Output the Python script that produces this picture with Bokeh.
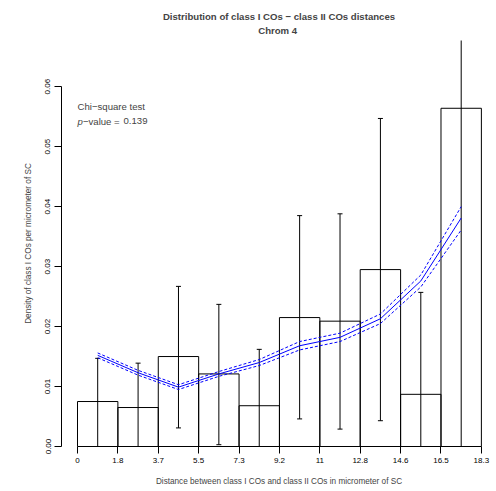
from math import pi
from bokeh.plotting import figure
from bokeh.models import Range1d, FixedTicker, Label
from bokeh.embed import file_html
from bokeh.resources import INLINE

# ---- data ----
bin_edges = [0, 1.83, 3.66, 5.49, 7.32, 9.15, 10.98, 12.81, 14.64, 16.47, 18.3]
x_tick_labels = ["0", "1.8", "3.7", "5.5", "7.3", "9.2", "11", "12.8", "14.6", "16.5", "18.3"]
density = [0.0075, 0.0065, 0.0150, 0.0121, 0.0068, 0.0215, 0.0209, 0.0295, 0.0087, 0.0564]
err_low = [0.0, 0.0, 0.0031, 0.0003, 0.0, 0.0046, 0.0029, 0.0043, 0.0, 0.0]
err_high = [0.0147, 0.0139, 0.0267, 0.0237, 0.0162, 0.0385, 0.0388, 0.0547, 0.0257, 0.0750]
fit = [0.0152, 0.0123, 0.0099, 0.0121, 0.0140, 0.0168, 0.0182, 0.0213, 0.0276, 0.0381]
fit_upper = [0.0156, 0.0127, 0.0103, 0.0125, 0.0145, 0.0175, 0.0189, 0.0221, 0.0286, 0.0400]
fit_lower = [0.0148, 0.0119, 0.0095, 0.0117, 0.0135, 0.0161, 0.0175, 0.0205, 0.0266, 0.0361]
y_ticks = [0.0, 0.01, 0.02, 0.03, 0.04, 0.05, 0.06]
y_tick_labels = ["0.00", "0.01", "0.02", "0.03", "0.04", "0.05", "0.06"]
p_value = "0.139"

title_main = "Distribution of class I COs \u2212 class II COs distances"
title_sub = "Chrom  4"
x_label = "Distance between class I COs and class II COs in micrometer of SC"
y_label = "Density of class I COs per micrometer of SC"

centers = [(a + b) / 2 for a, b in zip(bin_edges[:-1], bin_edges[1:])]

FONT = "Liberation Sans"

p = figure(frame_width=435, frame_height=406,
           min_border_left=61, min_border_right=0, min_border_top=40, min_border_bottom=45,
           x_range=Range1d(-0.725, 18.985), y_range=Range1d(0, 0.0677),
           output_backend="svg", toolbar_location=None,
           title=title_main + "\n" + title_sub)
p.outline_line_color = None
p.xgrid.visible = False
p.ygrid.visible = False
p.background_fill_color = "white"
p.border_fill_color = "white"

# title (two centred lines)
p.title.align = "center"
p.title.text_align = "center"
p.title.text_font = FONT
p.title.text_font_size = "9.6px"
p.title.text_font_style = "bold"
p.title.text_line_height = 1.3
p.title.standoff = 9

# x axis
xa = p.xaxis[0]
xa.ticker = FixedTicker(ticks=bin_edges)
xa.major_label_overrides = {e: l for e, l in zip(bin_edges, x_tick_labels)}
xa.bounds = (0, 18.3)
xa.major_tick_in = 0
xa.major_tick_out = 7
xa.minor_tick_line_color = None
xa.major_label_standoff = 4
xa.major_label_text_font = FONT
xa.major_label_text_font_size = "8px"
xa.major_label_text_color = "black"
xa.axis_label = x_label
xa.axis_label_text_font = FONT
xa.axis_label_text_font_size = "8.2px"
xa.axis_label_text_font_style = "normal"
xa.axis_label_standoff = 11

# y axis
ya = p.yaxis[0]
ya.ticker = FixedTicker(ticks=y_ticks)
ya.major_label_overrides = {t: l for t, l in zip(y_ticks, y_tick_labels)}
ya.bounds = (0, 0.06)
ya.major_tick_in = 0
ya.major_tick_out = 7
ya.minor_tick_line_color = None
ya.major_label_orientation = "parallel"
ya.major_label_standoff = 4
ya.major_label_text_font = FONT
ya.major_label_text_font_size = "8px"
ya.major_label_text_color = "black"
ya.axis_label = y_label
ya.axis_label_text_font = FONT
ya.axis_label_text_font_size = "8.2px"
ya.axis_label_text_font_style = "normal"
ya.axis_label_standoff = 10

# histogram bars
p.quad(left=bin_edges[:-1], right=bin_edges[1:], bottom=0, top=density,
       fill_color=None, line_color="black", line_width=1)

# error bars
p.segment(x0=centers, y0=err_low, x1=centers, y1=err_high, line_color="black", line_width=1)
p.scatter(centers, err_low, marker="dash", size=5, line_color="black", line_width=1)
p.scatter(centers, err_high, marker="dash", size=5, line_color="black", line_width=1)

# fitted curve with band
p.line(centers, fit, line_color="blue", line_width=1)
p.line(centers, fit_upper, line_color="blue", line_width=1, line_dash="3 2")
p.line(centers, fit_lower, line_color="blue", line_width=1, line_dash="3 2")

# test annotation
p.add_layout(Label(x=0, y=0.0567, text="Chi\u2212square test", text_font=FONT,
                   text_font_size="9.6px", text_baseline="middle", text_align="left"))
p.add_layout(Label(x=0, y=0.0542, text="p", text_font=FONT, text_font_style="italic",
                   text_font_size="9.6px", text_baseline="middle", text_align="left"))
p.add_layout(Label(x=0, y=0.0542, x_offset=5.4, text="\u2212value = ", text_font=FONT,
                   text_font_size="9.6px", text_baseline="middle", text_align="left"))
p.add_layout(Label(x=0, y=0.0542, x_offset=46, text=p_value, text_font=FONT,
                   text_font_size="9.6px", text_baseline="middle", text_align="left"))

open("out.html", "w").write(file_html(p, INLINE))
